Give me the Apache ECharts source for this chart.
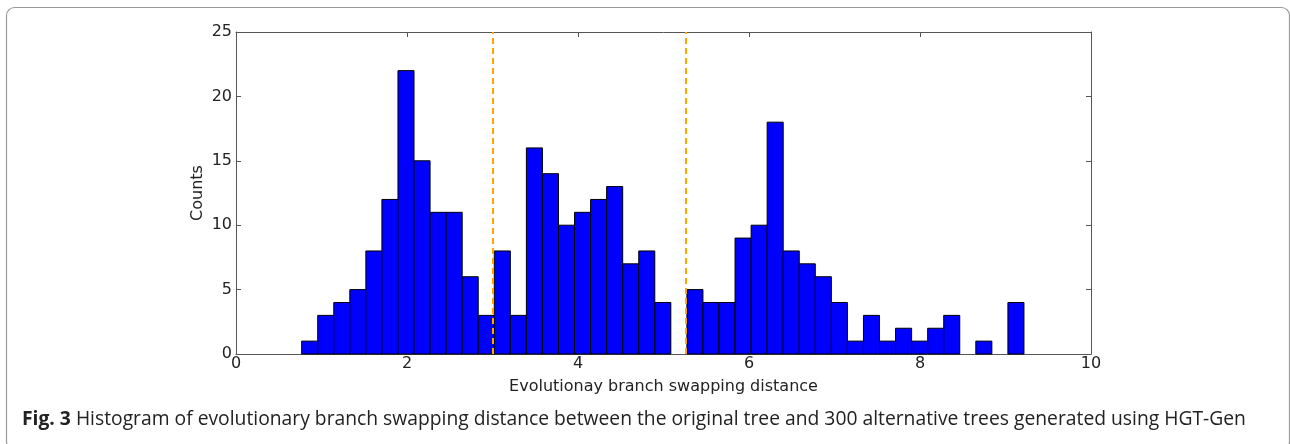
<!DOCTYPE html>
<html>
<head>
<meta charset="utf-8">
<script src="https://cdn.jsdelivr.net/npm/echarts@6/dist/echarts.min.js"></script>
<style>
html,body{margin:0;padding:0;background:#fff;}
#chart{width:1290px;height:444px;}
</style>
</head>
<body>
<div id="chart"></div>
<script>
// Histogram counts (45 equal-width bins)
const counts = [1,3,4,5,8,12,22,15,11,11,6,3,8,3,16,14,10,11,12,13,7,8,4,0,5,4,4,9,10,18,8,7,6,4,1,3,1,2,1,2,3,0,1,0,4];
const binStart = 0.768;
const binEnd = 9.216;
const thresholds = [3.0, 5.26];
const xTicks = [0, 2, 4, 6, 8, 10];
const yTicks = [0, 5, 10, 15, 20, 25];
const xTitle = 'Evolutionay branch swapping distance';
const yTitle = 'Counts';
const captionBold = 'Fig. 3';
const captionText = ' Histogram of evolutionary branch swapping distance between the original tree and 300 alternative trees generated using HGT-Gen';

const binWidth = (binEnd - binStart) / counts.length;
const histData = counts.map((c, i) => [binStart + i * binWidth, binStart + (i + 1) * binWidth, c]);

const chart = echarts.init(document.getElementById('chart'), null, {renderer: 'canvas'});
const axisColor = '#555';
const tickFont = {fontFamily: 'DejaVu Sans', fontSize: 16, color: '#222'};

function xAxisCfg(pos, labels) {
  return {
    type: 'value', min: xTicks[0], max: xTicks[xTicks.length - 1], interval: 2, position: pos,
    axisLine: {show: true, onZero: false, lineStyle: {color: axisColor, width: 1}},
    axisTick: {show: true, inside: true, length: 5, lineStyle: {color: axisColor}},
    axisLabel: Object.assign({show: labels, margin: 2}, tickFont),
    splitLine: {show: false}
  };
}
function yAxisCfg(pos, labels) {
  return {
    type: 'value', min: yTicks[0], max: yTicks[yTicks.length - 1], interval: 5, position: pos,
    axisLine: {show: true, onZero: false, lineStyle: {color: axisColor, width: 1}},
    axisTick: {show: true, inside: true, length: 5, lineStyle: {color: axisColor}},
    axisLabel: Object.assign({show: labels, margin: 4}, tickFont),
    splitLine: {show: false}
  };
}

const xb = xAxisCfg('bottom', true);
xb.name = xTitle; xb.nameLocation = 'middle'; xb.nameGap = 25; xb.nameMoveOverlap = false;
xb.nameTextStyle = {fontFamily: 'DejaVu Sans', fontSize: 16, color: '#222'};
const yl = yAxisCfg('left', true);
yl.name = yTitle; yl.nameLocation = 'middle'; yl.nameGap = 30; yl.nameMoveOverlap = false;
yl.nameTextStyle = {fontFamily: 'DejaVu Sans', fontSize: 16, color: '#222'};

const option = {
  animation: false,
  backgroundColor: '#fff',
  grid: {left: 236, right: 199, top: 32, bottom: 90, containLabel: false},
  xAxis: [xb, xAxisCfg('top', false)],
  yAxis: [yl, yAxisCfg('right', false)],
  series: [
    {
      type: 'custom',
      xAxisIndex: 0, yAxisIndex: 0,
      data: histData,
      renderItem: function (params, api) {
        const c = api.value(2);
        if (!c) return null;
        const p0 = api.coord([api.value(0), c]);
        const p1 = api.coord([api.value(1), 0]);
        return {
          type: 'rect',
          shape: {x: p0[0], y: p0[1], width: p1[0] - p0[0], height: p1[1] - p0[1]},
          style: {fill: '#0000ff', stroke: '#000', lineWidth: 1}
        };
      },
      encode: {x: [0, 1], y: 2},
      z: 2,
      markLine: {
        silent: true, symbol: 'none', label: {show: false},
        lineStyle: {color: '#ffa500', type: [6, 4], width: 2},
        data: thresholds.map(v => ({xAxis: v})),
        z: 5
      }
    }
  ],
  graphic: [
    {
      type: 'rect', left: 4, top: 5, z: -10, silent: true,
      shape: {width: 1283, height: 442, r: 8},
      style: {fill: 'none', stroke: '#999', lineWidth: 1.2}
    },
    {
      type: 'text', left: 22, top: 410, silent: true,
      style: {
        text: '{b|' + captionBold + '}{n|' + captionText + '}',
        rich: {
          b: {fontFamily: 'Open Sans', fontWeight: 'bold', fontSize: 19.3, fill: '#222'},
          n: {fontFamily: 'Open Sans', fontSize: 19.3, fill: '#222'}
        }
      }
    }
  ]
};
chart.setOption(option);
</script>
</body>
</html>
